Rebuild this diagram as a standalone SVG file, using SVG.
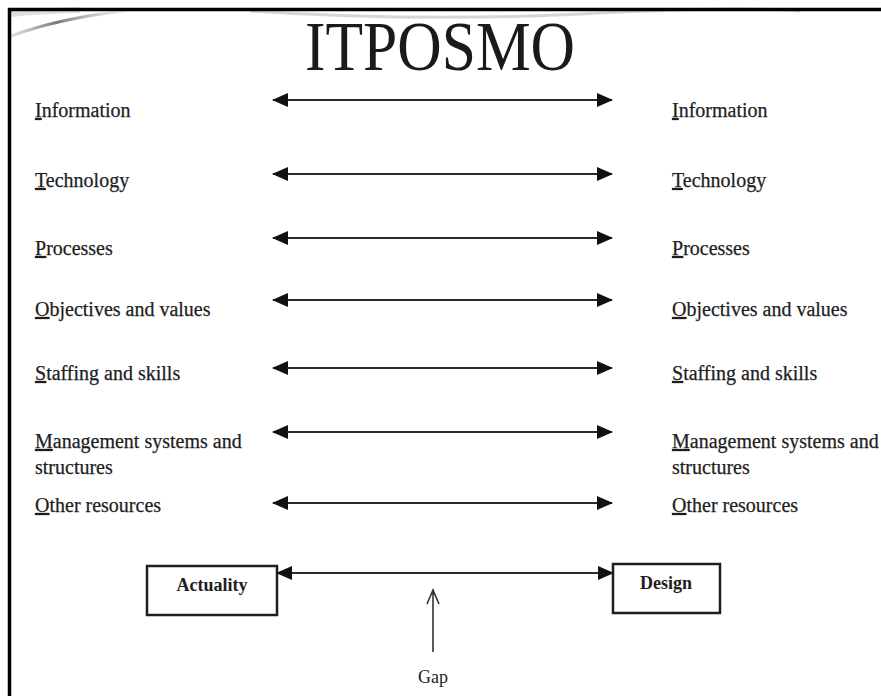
<svg xmlns="http://www.w3.org/2000/svg" width="881" height="696" viewBox="0 0 881 696">
<style>
.lbl{font-family:"Liberation Serif","Times New Roman",serif;font-size:20px;fill:#1e1e1e;stroke:#1e1e1e;stroke-width:0.25}
.box{fill:#fff;stroke:#1e1e1e;stroke-width:2.5}
.bx{font-family:"Liberation Serif","Times New Roman",serif;font-size:18px;font-weight:bold;fill:#1e1e1e;text-anchor:middle}
.con{stroke:#2a2a2a;stroke-width:2.2;fill:none}
</style>
<defs>
<marker id="ah" markerUnits="userSpaceOnUse" markerWidth="16" markerHeight="14" refX="15" refY="7" orient="auto-start-reverse">
<path d="M0,0 L16,7 L0,14 Z" fill="#111"/>
</marker>
<linearGradient id="sw" x1="0" y1="0" x2="1" y2="0">
<stop offset="0" stop-color="#999" stop-opacity="0.3"/>
<stop offset="0.4" stop-color="#777"/>
<stop offset="1" stop-color="#bbb" stop-opacity="0.2"/>
</linearGradient>
</defs>
<rect width="881" height="696" fill="#fff"/>
<g id="decor">
<path d="M11,36 Q60,18 125,11" stroke="url(#sw)" stroke-width="3" fill="none"/>
<path d="M11,14 Q40,11 80,10" stroke="#ccc" stroke-width="6" fill="none" opacity="0.6"/>
<path d="M250,11 Q420,22 580,14 T800,11" stroke="#bbb" stroke-width="3" fill="none" opacity="0.6"/>
<path d="M9.5,8 V696 M8,9.5 H881" stroke="#000" stroke-width="3.5" fill="none"/>
</g>
<g id="title">
<text x="305" y="70" textLength="270" lengthAdjust="spacingAndGlyphs" style="font-family:'Liberation Serif','Times New Roman',serif;font-size:70px;fill:#1a1a1a">ITPOSMO</text>
</g>
<g id="left-labels">
<text x="35" y="117" class="lbl"><tspan text-decoration="underline">I</tspan>nformation</text>
<text x="35" y="187" class="lbl"><tspan text-decoration="underline">T</tspan>echnology</text>
<text x="35" y="255" class="lbl"><tspan text-decoration="underline">P</tspan>rocesses</text>
<text x="35" y="316" class="lbl"><tspan text-decoration="underline">O</tspan>bjectives and values</text>
<text x="35" y="380" class="lbl"><tspan text-decoration="underline">S</tspan>taffing and skills</text>
<text x="35" y="448" class="lbl"><tspan text-decoration="underline">M</tspan>anagement systems and</text>
<text x="35" y="474" class="lbl">structures</text>
<text x="35" y="512" class="lbl"><tspan text-decoration="underline">O</tspan>ther resources</text>
</g>
<g id="right-labels">
<text x="672" y="117" class="lbl"><tspan text-decoration="underline">I</tspan>nformation</text>
<text x="672" y="187" class="lbl"><tspan text-decoration="underline">T</tspan>echnology</text>
<text x="672" y="255" class="lbl"><tspan text-decoration="underline">P</tspan>rocesses</text>
<text x="672" y="316" class="lbl"><tspan text-decoration="underline">O</tspan>bjectives and values</text>
<text x="672" y="380" class="lbl"><tspan text-decoration="underline">S</tspan>taffing and skills</text>
<text x="672" y="448" class="lbl"><tspan text-decoration="underline">M</tspan>anagement systems and</text>
<text x="672" y="474" class="lbl">structures</text>
<text x="672" y="512" class="lbl"><tspan text-decoration="underline">O</tspan>ther resources</text>
</g>
<g id="actuality">
<rect x="147" y="566" width="130" height="49" class="box"/>
<text x="212" y="591" class="bx">Actuality</text>
</g>
<g id="design">
<rect x="613" y="564" width="107" height="49" class="box"/>
<text x="666" y="589" class="bx">Design</text>
</g>
<g id="gap">
<text x="433" y="683" style="font-family:'Liberation Serif','Times New Roman',serif;font-size:18px;fill:#1e1e1e;text-anchor:middle">Gap</text>
</g>
<g id="connectors">
<line x1="273" y1="100" x2="612" y2="100" class="con" marker-start="url(#ah)" marker-end="url(#ah)"/>
<line x1="273" y1="174" x2="612" y2="174" class="con" marker-start="url(#ah)" marker-end="url(#ah)"/>
<line x1="273" y1="238" x2="612" y2="238" class="con" marker-start="url(#ah)" marker-end="url(#ah)"/>
<line x1="273" y1="300" x2="612" y2="300" class="con" marker-start="url(#ah)" marker-end="url(#ah)"/>
<line x1="273" y1="368" x2="612" y2="368" class="con" marker-start="url(#ah)" marker-end="url(#ah)"/>
<line x1="273" y1="432" x2="612" y2="432" class="con" marker-start="url(#ah)" marker-end="url(#ah)"/>
<line x1="273" y1="503" x2="612" y2="503" class="con" marker-start="url(#ah)" marker-end="url(#ah)"/>
<line x1="277" y1="573" x2="613" y2="573" class="con" marker-start="url(#ah)" marker-end="url(#ah)"/>
<path d="M433,652 V590 M427,604 L433,590 L439,604" stroke="#333" stroke-width="1.6" fill="none"/>
</g>
</svg>
